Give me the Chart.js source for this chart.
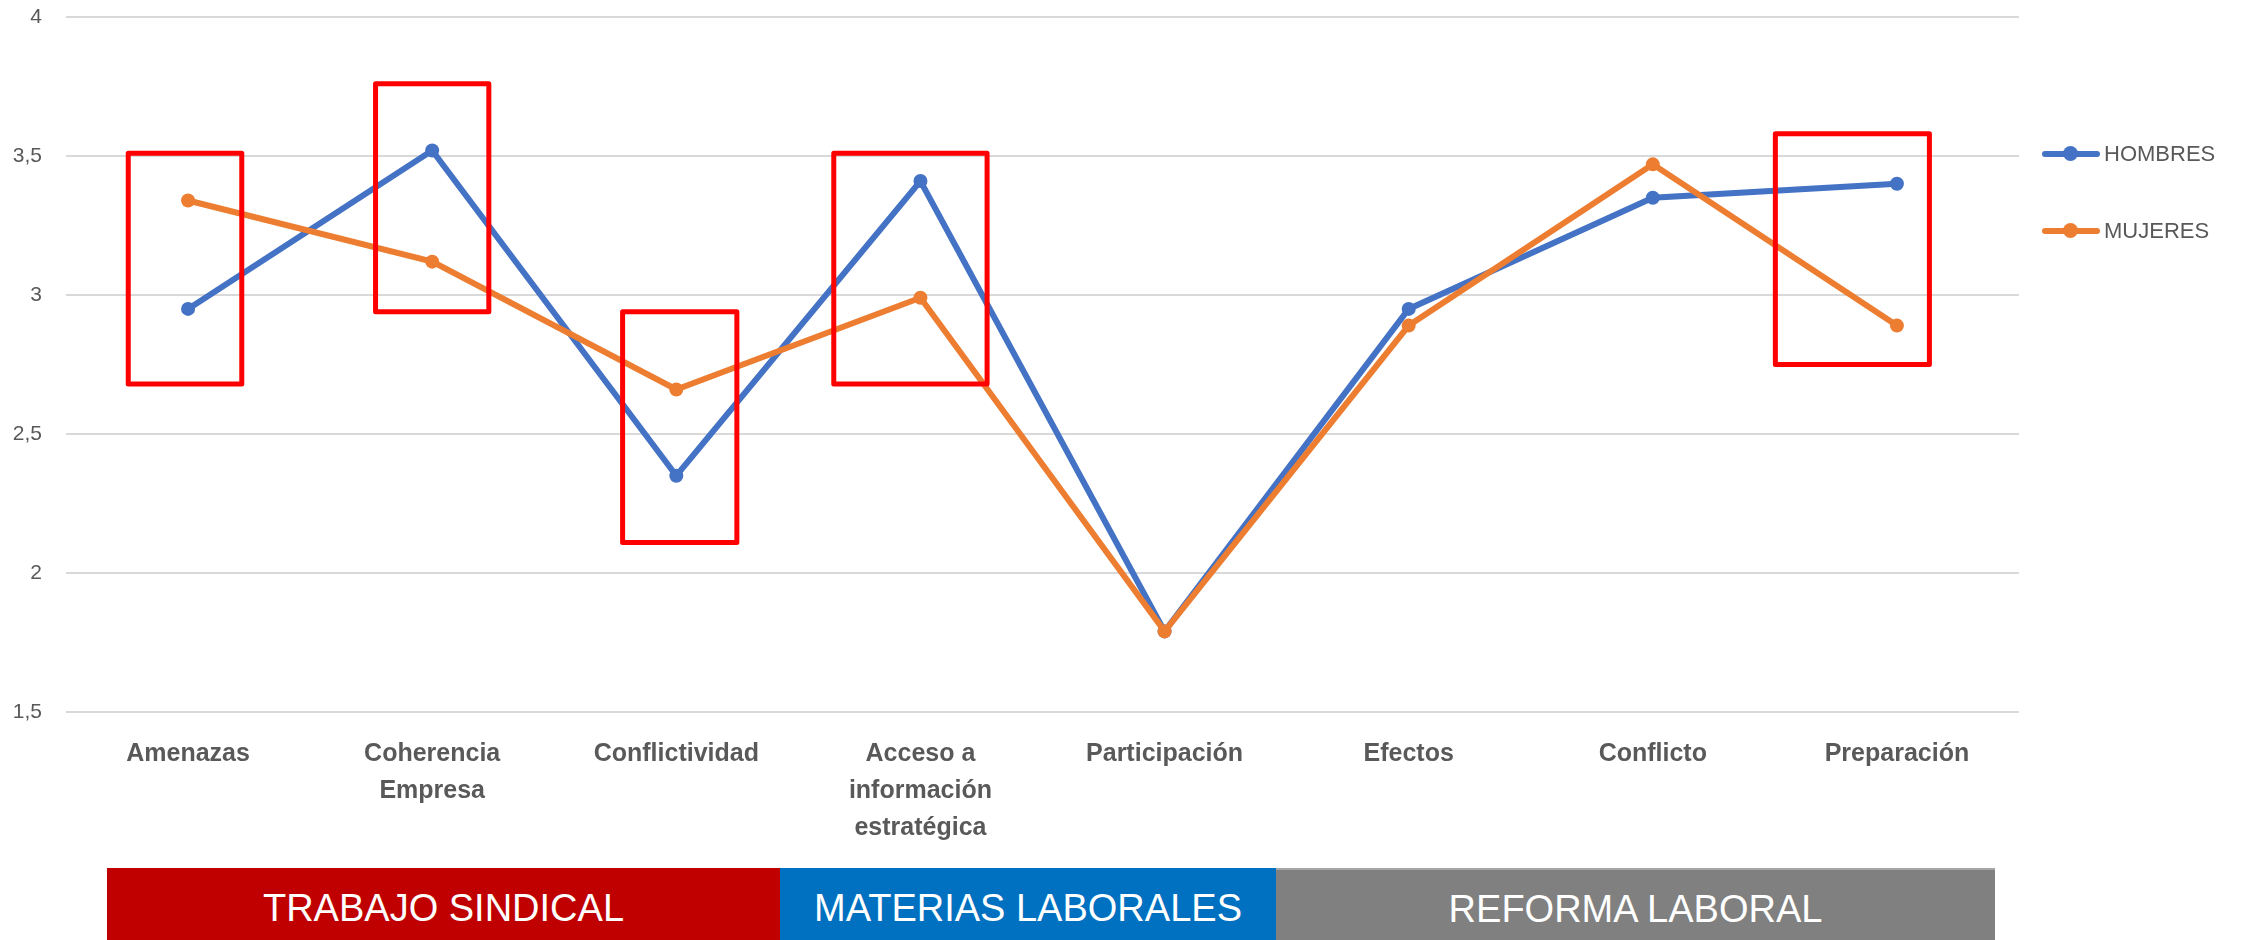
<!DOCTYPE html>
<html>
<head>
<meta charset="utf-8">
<title>Hombres / Mujeres</title>
<script src="https://cdn.jsdelivr.net/npm/chart.js@4.4.1/dist/chart.umd.min.js"></script>
<style>
  html, body { margin: 0; padding: 0; background: #fff; }
  #wrap { position: relative; width: 2249px; height: 940px; overflow: hidden; }
  #grafico { position: absolute; left: 0; top: 0; }
  .bloque {
    position: absolute; top: 868px; height: 72px;
    display: flex; align-items: center; justify-content: center;
    padding-top: 8px; box-sizing: border-box;
    color: #fff; font-family: "Liberation Sans", Arial, sans-serif; font-size: 38px;
  }
  #b1 { left: 107px; width: 673px; background: #C00000; }
  #b2 { left: 780px; width: 496px; background: #0070C0; }
  #b3 { left: 1276px; width: 719px; background: #808080; border-top: 2px solid #A6A6A6; }
  #leyenda { position: absolute; left: 2042px; top: 0; }
  .item { position: absolute; left: 0; height: 24px; display: flex; align-items: center; white-space: nowrap;
          font-family: "Liberation Sans", Arial, sans-serif; font-size: 22px; color: #595959; }
  .muestra { position: relative; width: 58px; height: 24px; margin-right: 4px; }
  .muestra .linea { position: absolute; left: 0; right: 0; top: 9px; height: 6px; border-radius: 3px; }
  .muestra .punto { position: absolute; left: 21px; top: 4px; width: 15px; height: 15px; border-radius: 50%; }
</style>
</head>
<body>
<div id="wrap">
  <canvas id="grafico" width="2249" height="940"></canvas>
  <div id="leyenda"></div>
  <div class="bloque" id="b1">TRABAJO SINDICAL</div>
  <div class="bloque" id="b2">MATERIAS LABORALES</div>
  <div class="bloque" id="b3">REFORMA LABORAL</div>
</div>
<script>
// datos
const categorias = ['Amenazas', ['Coherencia', 'Empresa'], 'Conflictividad',
  ['Acceso a', 'información', 'estratégica'], 'Participación', 'Efectos', 'Conflicto', 'Preparación'];
const hombres = [2.95, 3.52, 2.35, 3.41, 1.79, 2.95, 3.35, 3.40];
const mujeres = [3.34, 3.12, 2.66, 2.99, 1.79, 2.89, 3.47, 2.89];
const ticksY = [1.5, 2, 2.5, 3, 3.5, 4];

// recuadros rojos: categoria, rango en valores, bordes en fraccion de la banda
const recuadros = [
  { cat: 0, desde: 2.68, hasta: 3.51, izq: -0.245, der: 0.22 },
  { cat: 1, desde: 2.94, hasta: 3.76, izq: -0.232, der: 0.232 },
  { cat: 2, desde: 2.11, hasta: 2.94, izq: -0.22, der: 0.248 },
  { cat: 3, desde: 2.68, hasta: 3.51, izq: -0.355, der: 0.273 },
  { cat: 7, desde: 2.75, hasta: 3.58, izq: -0.498, der: 0.133 }
];

const azul = '#4472C4';
const naranja = '#ED7D31';

const recuadrosPlugin = {
  id: 'recuadros',
  afterDatasetsDraw(chart) {
    const { ctx, scales: { x, y } } = chart;
    const banda = x.getPixelForValue(1) - x.getPixelForValue(0);
    ctx.save();
    ctx.strokeStyle = '#FF0000';
    ctx.lineWidth = 5;
    ctx.lineJoin = 'round';
    recuadros.forEach(r => {
      const cx = x.getPixelForValue(r.cat);
      const x0 = cx + r.izq * banda, x1 = cx + r.der * banda;
      const y0 = y.getPixelForValue(r.hasta), y1 = y.getPixelForValue(r.desde);
      ctx.strokeRect(x0, y0, x1 - x0, y1 - y0);
    });
    ctx.restore();
  }
};

const fuente = 'Liberation Sans';

const chart = new Chart(document.getElementById('grafico'), {
  type: 'line',
  data: {
    labels: categorias,
    datasets: [
      {
        label: 'HOMBRES', data: hombres, order: 2,
        borderColor: azul, backgroundColor: azul, borderWidth: 6,
        pointRadius: 7, pointBorderWidth: 0, pointBackgroundColor: azul,
        tension: 0
      },
      {
        label: 'MUJERES', data: mujeres, order: 1,
        borderColor: naranja, backgroundColor: naranja, borderWidth: 6,
        pointRadius: 7, pointBorderWidth: 0, pointBackgroundColor: naranja,
        tension: 0
      }
    ]
  },
  options: {
    responsive: false,
    animation: false,
    events: [],
    layout: { padding: { top: 17, right: 230, bottom: 0, left: 0 } },
    plugins: { legend: { display: false }, tooltip: { enabled: false } },
    scales: {
      x: {
        offset: true,
        grid: { display: false, drawTicks: false },
        border: { display: false },
        ticks: {
          padding: 24, maxRotation: 0, autoSkip: false,
          color: '#595959',
          font: { family: fuente, size: 25, weight: 'bold', lineHeight: 1.48 }
        },
        afterFit(s) { s.height = 228; s.paddingLeft = 0; s.paddingRight = 0; }
      },
      y: {
        min: 1.5, max: 4,
        afterBuildTicks(s) { s.ticks = ticksY.map(v => ({ value: v })); },
        grid: { color: '#D9D9D9', lineWidth: 2, drawTicks: false },
        border: { display: false },
        ticks: {
          padding: 24, color: '#595959',
          font: { family: fuente, size: 21 },
          callback: v => String(v).replace('.', ',')
        },
        afterFit(s) { s.width = 66; s.paddingTop = 0; s.paddingBottom = 0; }
      }
    }
  },
  plugins: [recuadrosPlugin]
});

// leyenda a la derecha, construida desde los datasets
const leyenda = document.getElementById('leyenda');
const filasY = [142, 219];
chart.data.datasets.forEach((ds, i) => {
  const item = document.createElement('div');
  item.className = 'item';
  item.style.top = filasY[i] + 'px';
  item.innerHTML = '<div class="muestra"><div class="linea" style="background:' + ds.borderColor +
    '"></div><div class="punto" style="background:' + ds.borderColor + '"></div></div>' + ds.label;
  leyenda.appendChild(item);
});
</script>
</body>
</html>
